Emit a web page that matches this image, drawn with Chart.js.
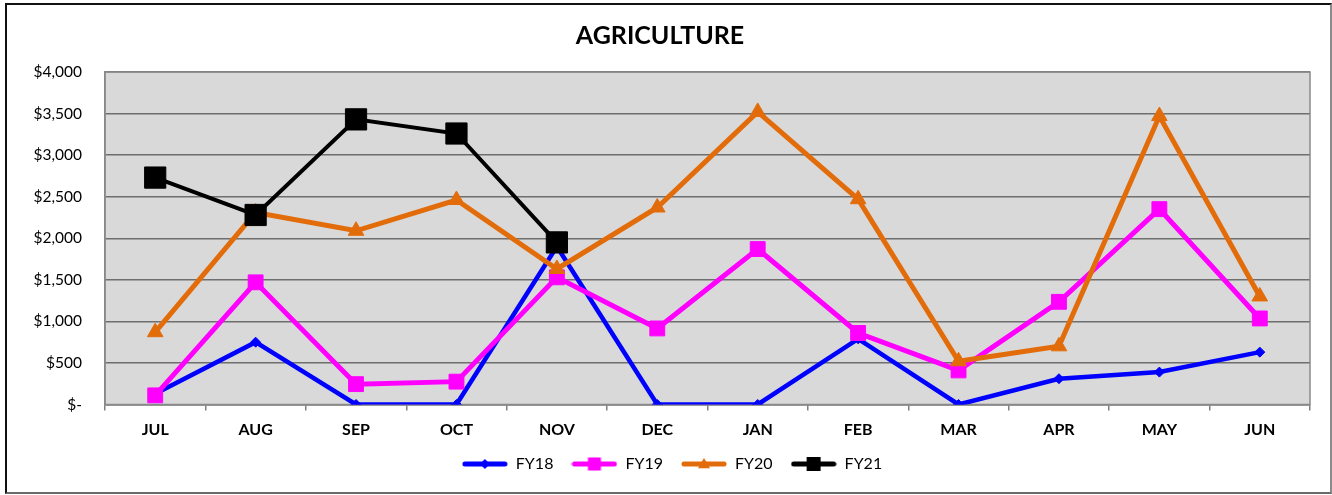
<!DOCTYPE html>
<html>
<head>
<meta charset="utf-8">
<script src="https://cdn.jsdelivr.net/npm/chart.js@4.4.0/dist/chart.umd.min.js"></script>
<style>
  html, body { margin:0; padding:0; background:#fff; }
  #wrap { position:relative; width:1332px; height:495px; }
  #frame { position:absolute; left:5px; top:3px; width:1323px; height:487px;
           border-left:2px solid #111; border-top:2px solid #111;
           border-right:2px solid #8a8a8a; border-bottom:2px solid #6a6a6a; pointer-events:none; }
  canvas { position:absolute; left:0; top:0; }
</style>
</head>
<body>
<div id="wrap">
  <canvas id="c" width="1332" height="495"></canvas>
  <div id="frame"></div>
</div>
<script>
const months = ['JUL','AUG','SEP','OCT','NOV','DEC','JAN','FEB','MAR','APR','MAY','JUN'];
const fy18 = [130, 750, 0, 0, 1900, 0, 0, 790, 0, 310, 390, 630];
const fy19 = [110, 1470, 245, 275, 1530, 915, 1870, 860, 410, 1235, 2350, 1035];
const fy20 = [870, 2310, 2090, 2460, 1630, 2370, 3520, 2470, 520, 700, 3470, 1300];
const fy21 = [2730, 2280, 3430, 3260, 1950, null, null, null, null, null, null, null];
const seriesNames = ['FY18','FY19','FY20','FY21'];
const yTicks = [0, 500, 1000, 1500, 2000, 2500, 3000, 3500, 4000];

const FONT = 'Lato, "Open Sans", sans-serif';

function legendIcon(color, style, r) {
  const cv = document.createElement('canvas');
  cv.width = 46; cv.height = 18;
  const g = cv.getContext('2d');
  g.strokeStyle = color; g.lineWidth = 5; g.lineCap = 'round';
  g.beginPath(); g.moveTo(3, 9); g.lineTo(43, 9); g.stroke();
  g.fillStyle = color;
  const x = 23, y = 9;
  g.beginPath();
  if (style === 'rectRot') {
    g.moveTo(x, y - r); g.lineTo(x + r, y); g.lineTo(x, y + r); g.lineTo(x - r, y); g.closePath();
  } else if (style === 'rect') {
    g.rect(x - r, y - r, 2 * r, 2 * r);
  } else if (style === 'triangle') {
    g.moveTo(x, y - r); g.lineTo(x + r, y + r * 0.7); g.lineTo(x - r, y + r * 0.7); g.closePath();
  }
  g.fill();
  return cv;
}

const bgPlugin = {
  id: 'plotbg',
  afterLayout(chart) {
    if (chart.legend) { chart.legend.left += 12; chart.legend.right += 12; }
  },
  beforeDraw(chart) {
    const { ctx, chartArea: a } = chart;
    ctx.save();
    ctx.fillStyle = '#d9d9d9';
    ctx.fillRect(a.left, a.top, a.right - a.left, a.bottom - a.top);
    ctx.restore();
  },
  beforeDatasetsDraw(chart) {
    const { ctx, chartArea: a } = chart;
    ctx.save();
    ctx.strokeStyle = '#8a8a8a';
    ctx.lineWidth = 1.5;
    ctx.strokeRect(a.left, a.top, a.right - a.left, a.bottom - a.top);
    ctx.restore();
  }
};

const styles = [
  { color: '#0000ff', ps: 'rectRot', r: 5, lw: 4.5, order: 3, icon: legendIcon('#0000ff', 'rectRot', 5) },
  { color: '#ff00ff', ps: 'rect', r: 10.5, lw: 5, order: 2, icon: legendIcon('#ff00ff', 'rect', 6.5) },
  { color: '#e36c0a', ps: 'triangle', r: 9, lw: 5, order: 1, icon: legendIcon('#e36c0a', 'triangle', 6) },
  { color: '#000000', ps: 'rect', r: 15, lw: 4, order: 0, icon: legendIcon('#000000', 'rect', 7) }
];
const seriesData = [fy18, fy19, fy20, fy21];

new Chart(document.getElementById('c'), {
  type: 'line',
  data: {
    labels: months,
    datasets: seriesNames.map((n, i) => ({
      label: n,
      data: seriesData[i],
      borderColor: styles[i].color,
      backgroundColor: styles[i].color,
      pointBackgroundColor: styles[i].color,
      pointBorderColor: styles[i].color,
      pointBorderWidth: 1,
      pointStyle: styles[i].ps,
      pointRadius: styles[i].r,
      borderWidth: styles[i].lw,
      tension: 0,
      order: styles[i].order,
      spanGaps: false
    }))
  },
  options: {
    responsive: false,
    devicePixelRatio: 1,
    animation: false,
    layout: { padding: { left: 10, right: 22, top: 0, bottom: 13 } },
    plugins: {
      tooltip: { enabled: false },
      title: {
        display: true, text: 'AGRICULTURE', color: '#000',
        font: { family: FONT, size: 25, weight: 'bold' },
        padding: { top: 21, bottom: 21 }
      },
      legend: {
        position: 'bottom',
        labels: {
          color: '#000',
          font: { family: FONT, size: 16 },
          usePointStyle: true,
          pointStyleWidth: 46,
          padding: 18,
          sort: (a, b) => a.datasetIndex - b.datasetIndex,
          generateLabels(chart) {
            return chart.data.datasets.map((ds, i) => ({
              text: ds.label, datasetIndex: i, pointStyle: styles[i].icon,
              fillStyle: styles[i].color, strokeStyle: styles[i].color, lineWidth: 0,
              fontColor: '#000', hidden: false
            }));
          }
        }
      }
    },
    scales: {
      x: {
        offset: true,
        grid: { offset: true, drawOnChartArea: false, drawTicks: true, tickLength: 6, color: '#808080', lineWidth: 1.5 },
        border: { color: '#808080', width: 1.5 },
        ticks: { color: '#000', font: { family: FONT, size: 16, weight: 'bold' }, padding: 10, maxRotation: 0 },
        afterFit(s) { s.height = 33.5; }
      },
      y: {
        min: 0, max: 4000,
        afterBuildTicks(s) { s.ticks = yTicks.map(v => ({ value: v })); },
        grid: { color: '#6f6f6f', lineWidth: 1.5, drawTicks: false },
        border: { color: '#808080', width: 1.5 },
        ticks: {
          color: '#000', font: { family: FONT, size: 15.5 }, padding: 23,
          callback: v => v === 0 ? '$-' : '$' + v.toLocaleString('en-US')
        },
        afterFit(s) { s.width = 95; }
      }
    }
  },
  plugins: [bgPlugin]
});
</script>
</body>
</html>
